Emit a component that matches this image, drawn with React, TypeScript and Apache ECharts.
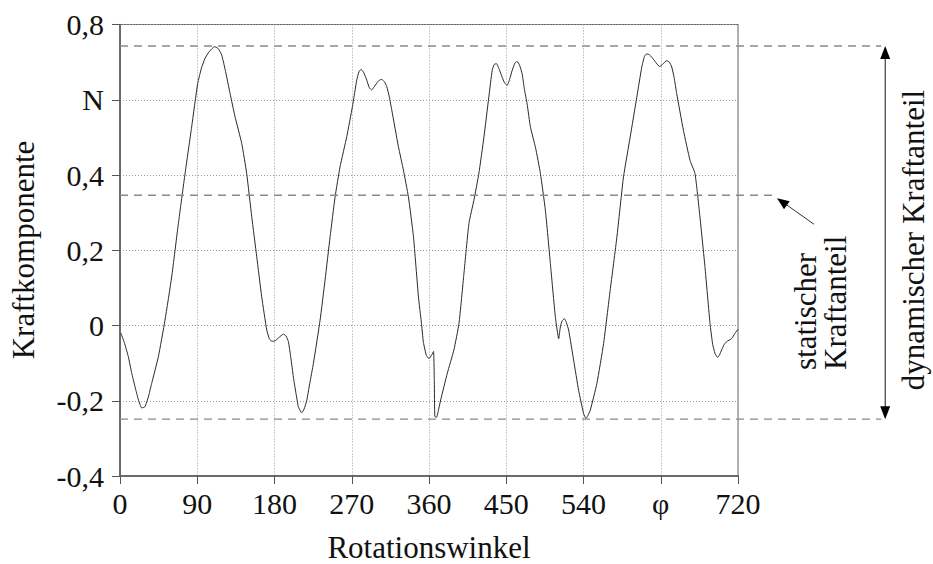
import React, { useEffect, useRef } from "react";
import * as echarts from "echarts";

// ---- data ----
const angles: number[] = [
  1, 5, 9.7, 13.5, 17.5, 21.5, 25.3, 29, 33, 36.9, 44.7, 52.4, 60.2, 68, 75.8, 83.5, 90.5, 95, 99, 104,
  110, 114, 118.5, 123, 128.2, 134, 141.8, 147.6, 153.5, 159.3, 165.1, 171, 174, 176.8, 180.7, 185, 190.4,
  193.5, 196.2, 199, 202, 205, 207.8, 211.7, 214.5, 217.6, 221, 225.3, 233.1, 238.9, 244.8, 250.6, 256.4,
  264.2, 270.8, 275.8, 278.5, 280.9, 284, 287.5, 290.5, 293.3, 296, 299.1, 302, 305, 308, 310.8, 313.5,
  316.6, 324.4, 330.2, 336, 341.9, 347.7, 351, 353.5, 357, 360, 363, 365.3, 366.2, 366.8, 368.9, 371,
  373.6, 381.3, 389, 394.9, 400.7, 406.5, 412.3, 418.1, 424, 429.7, 433.6, 436, 438.6, 442, 445.2, 448,
  451, 454, 456.9, 460, 462.7, 465.5, 468.5, 471, 474.3, 478.2, 484, 489.8, 495.6, 501.4, 507.2, 511.1,
  513, 515, 517.7, 520, 522.7, 528.5, 534.3, 540.1, 542.8, 545, 547.9, 555.6, 563.4, 571.1, 578.9, 586.6,
  594.4, 602.1, 607.9, 611, 613.7, 616.5, 619.6, 624, 628.5, 632.5, 637, 640, 642.8, 645.5, 648.6, 656.4,
  664.1, 669.9, 675.7, 681.5, 687.4, 690.5, 693.2, 696.3, 698.5, 700.9, 703.5, 706.7, 712.5, 716.4, 720,
];
const force: number[] = [
  -0.02, -0.045, -0.083, -0.125, -0.163, -0.198, -0.219, -0.216, -0.19, -0.154, -0.083, 0.014, 0.129, 0.271,
  0.404, 0.528, 0.643, 0.685, 0.71, 0.728, 0.741, 0.737, 0.719, 0.675, 0.617, 0.555, 0.484, 0.404, 0.289,
  0.183, 0.076, -0.012, -0.035, -0.042, -0.041, -0.032, -0.023, -0.028, -0.043, -0.085, -0.137, -0.18,
  -0.216, -0.232, -0.222, -0.199, -0.155, -0.101, 0.014, 0.121, 0.236, 0.342, 0.422, 0.502, 0.582, 0.652,
  0.675, 0.681, 0.672, 0.652, 0.632, 0.626, 0.634, 0.644, 0.652, 0.654, 0.648, 0.635, 0.61, 0.573, 0.475,
  0.413, 0.342, 0.236, 0.076, 0.01, -0.045, -0.08, -0.088, -0.079, -0.069, -0.15, -0.242, -0.244, -0.225,
  -0.198, -0.127, -0.065, 0.005, 0.138, 0.271, 0.333, 0.404, 0.501, 0.607, 0.678, 0.694, 0.696, 0.68, 0.66,
  0.645, 0.638, 0.655, 0.678, 0.697, 0.702, 0.692, 0.669, 0.63, 0.589, 0.527, 0.474, 0.404, 0.306, 0.165,
  0.023, -0.035, -0.004, 0.012, 0.018, 0.008, -0.012, -0.092, -0.172, -0.234, -0.247, -0.24, -0.225, -0.154,
  -0.048, 0.094, 0.235, 0.395, 0.501, 0.607, 0.687, 0.715, 0.722, 0.72, 0.713, 0.7, 0.688, 0.695, 0.704,
  0.7, 0.687, 0.66, 0.616, 0.519, 0.439, 0.404, 0.288, 0.156, 0.005, -0.05, -0.074, -0.085, -0.078, -0.065,
  -0.052, -0.043, -0.035, -0.021, -0.01,
];
const xTickLabels: string[] = ["0", "90", "180", "270", "360", "450", "540", "φ", "720"];
const yTickLabels: string[] = ["-0,4", "-0,2", "0", "0,2", "0,4", "N", "0,8"];
const levelNames: string[] = ["dynamischer Kraftanteil", "statischer", "Kraftanteil"];
const dynamicMax = 0.743;
const dynamicMin = -0.249;
const staticLevel = 0.346;

const X_MIN = 0, X_MAX = 720, X_STEP = 90;
const Y_MIN = -0.4, Y_MAX = 0.8, Y_STEP = 0.2;

const FONT = "Liberation Serif, Times New Roman, serif";

export default function App() {
  const ref = useRef<HTMLDivElement>(null);
  useEffect(() => {
    if (!ref.current) return;
    const chart = echarts.init(ref.current, undefined, { renderer: "svg" });
    const seriesData = angles.map((a, i) => [a, force[i]]);
    chart.setOption({
      animation: false,
      backgroundColor: "#fff",
      grid: {
        left: 120, top: 24.5, width: 618, height: 451.5,
        show: true, borderColor: "#6a6a6a", borderWidth: 1,
        containLabel: false, outerBoundsMode: "none",
      },
      xAxis: {
        type: "value", min: X_MIN, max: X_MAX, interval: X_STEP,
        axisLine: { show: true, onZero: false, lineStyle: { color: "#6a6a6a", width: 2 } },
        axisTick: { show: true, inside: false, length: 8, lineStyle: { color: "#555", width: 1 } },
        axisLabel: {
          margin: 12, color: "#111", fontFamily: FONT, fontSize: 30,
          formatter: (v: number) => xTickLabels[Math.round((v - X_MIN) / X_STEP)] ?? "",
        },
        splitLine: { show: true, lineStyle: { color: "#9a9a9a", width: 1, type: [1, 2] } },
      },
      yAxis: {
        type: "value", min: Y_MIN, max: Y_MAX, interval: Y_STEP,
        axisLine: { show: true, onZero: false, lineStyle: { color: "#555", width: 1.5 } },
        axisTick: { show: true, inside: false, length: 8, lineStyle: { color: "#555", width: 1 } },
        axisLabel: {
          margin: 16, color: "#111", fontFamily: FONT, fontSize: 30,
          formatter: (v: number) => yTickLabels[Math.round((v - Y_MIN) / Y_STEP)] ?? "",
        },
        splitLine: { show: true, lineStyle: { color: "#9a9a9a", width: 1, type: [1, 2] } },
      },
      series: [
        {
          type: "line", data: seriesData, showSymbol: false, smooth: 0.15,
          lineStyle: { color: "#2a2a2a", width: 1 }, z: 5,
        },
      ],
    });

    const p = (x: number, y: number) => chart.convertToPixel({ gridIndex: 0 }, [x, y]) as number[];
    const dynArrowX = 891.5; // degrees (beyond axis, annotation)
    const staticDashEnd = 762;
    const smallTip = [765.5, 0.338];
    const smallTail = [808.6, 0.269];
    const dashStyle = { stroke: "#8a8a8a", lineWidth: 1.5, lineDash: [8, 6] };

    const top = p(X_MIN, dynamicMax);
    const topEnd = p(dynArrowX, dynamicMax);
    const bot = p(X_MIN, dynamicMin);
    const botEnd = p(dynArrowX, dynamicMin);
    const st = p(X_MIN, staticLevel);
    const stEnd = p(staticDashEnd, staticLevel);
    const tip = p(smallTip[0], smallTip[1]);
    const tail = p(smallTail[0], smallTail[1]);

    const head = (tx: number, ty: number, fx: number, fy: number, len: number, hw: number) => {
      const dx = tx - fx, dy = ty - fy;
      const l = Math.hypot(dx, dy);
      const ux = dx / l, uy = dy / l;
      const bx = tx - ux * len, by = ty - uy * len;
      return [[tx, ty], [bx - uy * hw, by + ux * hw], [bx + uy * hw, by - ux * hw]];
    };
    const ax = topEnd[0];
    const txt = (text: string, x: number, y: number, rot: number, align: string) => ({
      type: "text", z: 10, x, y, rotation: rot,
      style: { text, fontFamily: FONT, fontSize: 31, fill: "#111", align, verticalAlign: "middle" },
    });

    chart.setOption({
      graphic: [
        { type: "line", z: 10, shape: { x1: top[0], y1: top[1], x2: topEnd[0] - 4, y2: topEnd[1] }, style: dashStyle },
        { type: "line", z: 10, shape: { x1: bot[0], y1: bot[1], x2: botEnd[0] - 4, y2: botEnd[1] }, style: { ...dashStyle, lineWidth: 1.2 } },
        { type: "line", z: 10, shape: { x1: st[0], y1: st[1], x2: stEnd[0], y2: stEnd[1] }, style: dashStyle },
        { type: "line", z: 10, shape: { x1: ax, y1: top[1] + 8, x2: ax, y2: bot[1] - 8 }, style: { stroke: "#111", lineWidth: 1 } },
        { type: "polygon", z: 10, shape: { points: head(ax, top[1], ax, bot[1], 13, 5) }, style: { fill: "#000" } },
        { type: "polygon", z: 10, shape: { points: head(ax, bot[1], ax, top[1], 13, 5) }, style: { fill: "#000" } },
        { type: "line", z: 10, shape: { x1: tail[0], y1: tail[1], x2: tip[0] + 6, y2: tip[1] + 4 }, style: { stroke: "#333", lineWidth: 1 } },
        { type: "polygon", z: 10, shape: { points: head(tip[0], tip[1], tail[0], tail[1], 12, 5) }, style: { fill: "#000" } },
        txt("Kraftkomponente", 23, 250, Math.PI / 2, "center"),
        txt("Rotationswinkel", 429, 547, 0, "center"),
        txt(levelNames[1], 805, 370, Math.PI / 2, "left"),
        txt(levelNames[2], 835, 370, Math.PI / 2, "left"),
        txt(levelNames[0], 913, 240, Math.PI / 2, "center"),
      ],
    });
    return () => chart.dispose();
  }, []);
  return <div ref={ref} style={{ position: "fixed", left: 0, top: 0, width: 933, height: 564 }} />;
}
